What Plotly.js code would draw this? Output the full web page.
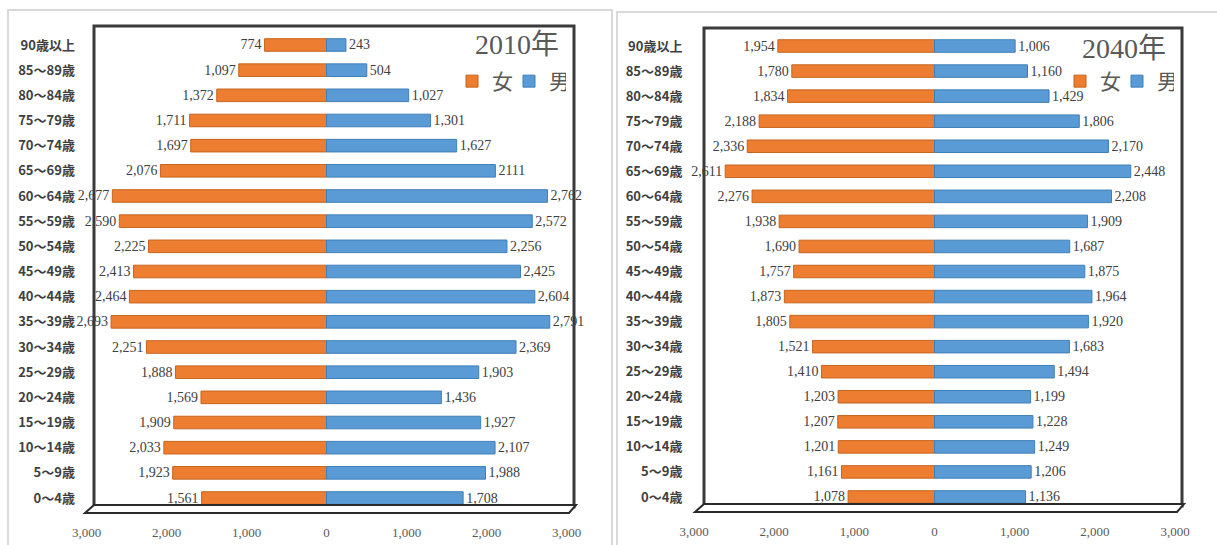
<!DOCTYPE html>
<html>
<head>
<meta charset="utf-8">
<script src="https://cdn.plot.ly/plotly-3.0.1.min.js"></script>
<style>html,body{margin:0;padding:0;background:#fff;}#chart{width:1217px;height:545px;}</style>
</head>
<body>
<div id="chart"></div>
<script>
// ---- data ----
const ages = ["90歳以上","85～89歳","80～84歳","75～79歳","70～74歳","65～69歳","60～64歳","55～59歳","50～54歳","45～49歳","40～44歳","35～39歳","30～34歳","25～29歳","20～24歳","15～19歳","10～14歳","5～9歳","0～4歳"];
const female2010 = [774,1097,1372,1711,1697,2076,2677,2590,2225,2413,2464,2693,2251,1888,1569,1909,2033,1923,1561];
const male2010   = [243,504,1027,1301,1627,2111,2762,2572,2256,2425,2604,2791,2369,1903,1436,1927,2107,1988,1708];
const female2040 = [1954,1780,1834,2188,2336,2611,2276,1938,1690,1757,1873,1805,1521,1410,1203,1207,1201,1161,1078];
const male2040   = [1006,1160,1429,1806,2170,2448,2208,1909,1687,1875,1964,1920,1683,1494,1199,1228,1249,1206,1136];
const tickVals = [-3000,-2000,-1000,0,1000,2000,3000];
const tickText = ["3,000","2,000","1,000","0","1,000","2,000","3,000"];
const seriesNames = ["女","男"];
const panelTitles = ["2010年","2040年"];

// ---- styling ----
const W = 1217, H = 545;
const ORANGE = "#ED7D31", BLUE = "#5B9BD5";
const serif = "Liberation Serif, DejaVu Serif, Noto Sans CJK JP, serif";
const fmt = v => v.toLocaleString("en-US");
const px = x => x / W;
const py = y => 1 - y / H;

const male2010Labels = male2010.map(fmt);
male2010Labels[5] = String(male2010[5]); // printed without separator in the source

function bar(vals, labels, color, edge, name, xa, ya, leg, neg) {
  return {
    type: "bar", orientation: "h", name: name,
    y: ages, x: vals.map(v => neg ? -v : v),
    text: labels, textposition: "outside", cliponaxis: false, constraintext: "none",
    textfont: {family: serif, size: 14, color: "#404040"},
    marker: {color: color, line: {color: edge, width: 1}},
    xaxis: xa, yaxis: ya, legend: leg, hoverinfo: "skip"
  };
}

const traces = [
  bar(female2010, female2010.map(fmt), ORANGE, "#C5651F", seriesNames[0], "x", "y", "legend", true),
  bar(male2010, male2010Labels, BLUE, "#3F7FB8", seriesNames[1], "x", "y", "legend", false),
  bar(female2040, female2040.map(fmt), ORANGE, "#C5651F", seriesNames[0], "x2", "y2", "legend2", true),
  bar(male2040, male2040.map(fmt), BLUE, "#3F7FB8", seriesNames[1], "x2", "y2", "legend2", false)
];

function xAxis(domain, anchor) {
  return {
    domain: domain, anchor: anchor, range: [-3000, 3000], fixedrange: true,
    tickvals: tickVals, ticktext: tickText, showgrid: false, zeroline: false,
    showline: false, ticks: "outside", ticklen: 10, tickcolor: "rgba(0,0,0,0)",
    tickfont: {family: serif, size: 13, color: "#595959"}
  };
}
function yAxis(domain, anchor) {
  return {
    domain: domain, anchor: anchor, type: "category", autorange: "reversed",
    showgrid: false, zeroline: false, showline: false,
    ticks: "outside", ticklen: 8, tickcolor: "rgba(0,0,0,0)",
    tickfont: {family: "Noto Sans CJK JP, sans-serif", size: 13, color: "#404040", weight: "bold"}
  };
}

function frameShapes(l, t, r, b) {
  return [
    {type: "rect", xref: "paper", yref: "paper", x0: px(l), x1: px(r), y0: py(b), y1: py(t),
     line: {color: "#3a3a3a", width: 3}, fillcolor: "rgba(0,0,0,0)", layer: "below"},
    {type: "path", xref: "paper", yref: "paper", layer: "above",
     path: `M ${px(l)},${py(b-2)} L ${px(r+2)},${py(b-2)} L ${px(r-5)},${py(b+6)} L ${px(l-9)},${py(b+6)} Z`,
     fillcolor: "#ffffff", line: {color: "#2a2a2a", width: 2}}
  ];
}

function legendBox(xLeft) {
  return {orientation: "h", x: px(xLeft), xanchor: "left", y: py(61), yanchor: "top",
          font: {family: serif, size: 21, color: "#595959"}, bgcolor: "rgba(0,0,0,0)",
          itemwidth: 30, tracegroupgap: 0, entrywidth: 12, entrywidthmode: "pixels"};
}

const layout = {
  width: W, height: H, margin: {l: 0, r: 0, t: 0, b: 0},
  paper_bgcolor: "#ffffff", plot_bgcolor: "rgba(0,0,0,0)",
  barmode: "relative", bargap: 0.5, showlegend: true,
  xaxis: xAxis([px(86.5), px(566.5)], "y"),
  yaxis: yAxis([py(510.6), py(32.4)], "x"),
  xaxis2: xAxis([px(694), px(1175)], "y2"),
  yaxis2: yAxis([py(509.5), py(33.5)], "x2"),
  legend: legendBox(452),
  legend2: legendBox(1060),
  annotations: [
    {xref: "paper", yref: "paper", x: px(561), y: py(45), xanchor: "right", yanchor: "middle",
     text: panelTitles[0], showarrow: false, font: {family: serif, size: 28, color: "#595959"}},
    {xref: "paper", yref: "paper", x: px(1168), y: py(48), xanchor: "right", yanchor: "middle",
     text: panelTitles[1], showarrow: false, font: {family: serif, size: 28, color: "#595959"}}
  ],
  shapes: [
    {type: "rect", xref: "paper", yref: "paper", x0: px(8), x1: px(612), y0: py(548), y1: py(10),
     line: {color: "#d9d9d9", width: 2}, fillcolor: "rgba(0,0,0,0)", layer: "below"},
    {type: "rect", xref: "paper", yref: "paper", x0: px(617), x1: px(1222), y0: py(548), y1: py(12),
     line: {color: "#d9d9d9", width: 2}, fillcolor: "rgba(0,0,0,0)", layer: "below"},
    ...frameShapes(94, 26, 574, 507),
    ...frameShapes(704, 28, 1182, 506)
  ]
};

Plotly.newPlot("chart", traces, layout, {displayModeBar: false, staticPlot: true});
</script>
</body>
</html>
